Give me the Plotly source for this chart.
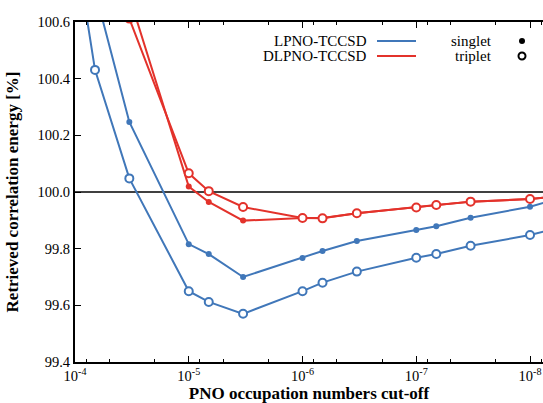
import plotly.graph_objects as go

# PNO occupation number cut-offs (TCutPNO)
cutoffs = [1e-4, 6.67e-5, 3.33e-5, 1e-5, 6.67e-6, 3.33e-6, 1e-6, 6.67e-7,
           3.33e-7, 1e-7, 6.67e-8, 3.33e-8, 1e-8, 6.67e-9]

lpno_singlet = [None, 100.71, 100.247, 99.816, 99.781, 99.700, 99.767, 99.792,
                99.827, 99.866, 99.879, 99.909, 99.948, 99.968]
lpno_triplet = [100.88, 100.431, 100.048, 99.650, 99.612, 99.570, 99.650, 99.680,
                99.719, 99.768, 99.781, 99.810, 99.848, 99.866]
dlpno_singlet = [None, None, 100.69, 100.019, 99.965, 99.899, 99.908, 99.908,
                 99.925, 99.947, 99.954, 99.966, 99.975, 99.982]
dlpno_triplet = [None, None, 100.612, 100.066, 100.003, 99.947, 99.908, 99.907,
                 99.925, 99.945, 99.954, 99.966, 99.975, 99.982]

x_tickvals = [1e-4, 1e-5, 1e-6, 1e-7, 1e-8]
x_ticktext = ["10<sup>-4</sup>", "10<sup>-5</sup>", "10<sup>-6</sup>",
              "10<sup>-7</sup>", "10<sup>-8</sup>"]
x_minor = [m * 10.0 ** e for e in range(-5, -9, -1) for m in (8, 5, 2)] + [8e-9]
y_tickvals = [99.4, 99.6, 99.8, 100.0, 100.2, 100.4, 100.6]

BLUE = "#4077b9"
RED = "#e3322b"
FONT = "Liberation Serif"

fig = go.Figure()

def add(y, color, open_marker):
    if open_marker:
        marker = dict(symbol="circle", size=8, color="white",
                      line=dict(color=color, width=2))
    else:
        marker = dict(symbol="circle", size=6, color=color,
                      line=dict(color=color, width=0))
    fig.add_trace(go.Scatter(x=cutoffs, y=y, mode="lines+markers",
                             line=dict(color=color, width=2), marker=marker,
                             connectgaps=False, showlegend=False))

add(lpno_singlet, BLUE, False)
add(lpno_triplet, BLUE, True)
add(dlpno_singlet, RED, False)
add(dlpno_triplet, RED, True)

# reference line at 100 %
fig.add_shape(type="line", xref="paper", x0=0, x1=1, yref="y", y0=100.0, y1=100.0,
              line=dict(color="black", width=1.5), layer="below")

# custom legend (text left of the sample, as in the original)
W, H, L, T = 468.0, 340.0, 75.0, 22.0
def px(x):
    return (x - L) / W
def py(y):
    return 1 - (y - T) / H

legend_font = dict(family=FONT, size=15, color="black")
for label, color, yy in [("LPNO-TCCSD", BLUE, 41), ("DLPNO-TCCSD", RED, 56)]:
    fig.add_annotation(x=px(369), y=py(yy), xref="paper", yref="paper", text=label,
                       showarrow=False, xanchor="right", yanchor="middle", font=legend_font)
    fig.add_shape(type="line", xref="paper", yref="paper", x0=px(377), x1=px(416),
                  y0=py(yy), y1=py(yy), line=dict(color=color, width=2))
for label, yy, filled in [("singlet", 41, True), ("triplet", 56, False)]:
    fig.add_annotation(x=px(494), y=py(yy), xref="paper", yref="paper", text=label,
                       showarrow=False, xanchor="right", yanchor="middle", font=legend_font)
    if filled:
        fig.add_shape(type="circle", xref="paper", yref="paper", xsizemode="pixel",
                      ysizemode="pixel", xanchor=px(522), yanchor=py(yy),
                      x0=-3, x1=3, y0=-3, y1=3, fillcolor="black",
                      line=dict(color="black", width=0))
    else:
        fig.add_shape(type="circle", xref="paper", yref="paper", xsizemode="pixel",
                      ysizemode="pixel", xanchor=px(522), yanchor=py(yy),
                      x0=-3.5, x1=3.5, y0=-3.5, y1=3.5, fillcolor="white",
                      line=dict(color="black", width=2))

fig.update_layout(
    width=543, height=403,
    margin=dict(l=75, r=0, t=22, b=41),
    paper_bgcolor="white", plot_bgcolor="white",
    font=dict(family=FONT, size=14, color="black"),
    xaxis=dict(
        type="log", range=[-4, -8.114],
        tickmode="array", tickvals=x_tickvals, ticktext=x_ticktext,
        ticks="inside", ticklen=6, tickwidth=1, tickcolor="black",
        minor=dict(tickmode="array", tickvals=x_minor, ticks="inside",
                   ticklen=3, tickwidth=1, tickcolor="black", showgrid=False),
        showline=True, linecolor="black", linewidth=2, mirror="allticks",
        showgrid=False, zeroline=False,
        tickfont=dict(family=FONT, size=14.5),
        title=dict(text="<b>PNO occupation numbers cut-off</b>",
                   font=dict(family=FONT, size=17), standoff=2),
        automargin=False,
    ),
    yaxis=dict(
        range=[99.4, 100.6], tickmode="array", tickvals=y_tickvals,
        tickformat=".1f",
        ticks="inside", ticklen=6, tickwidth=1, tickcolor="black",
        showline=True, linecolor="black", linewidth=2, mirror=False,
        showgrid=False, zeroline=False,
        tickfont=dict(family=FONT, size=14.5),
        title=dict(text="<b>Retrieved correlation energy [%]</b>",
                   font=dict(family=FONT, size=17)),
        automargin=False,
    ),
)

fig.write_html("out.html")
